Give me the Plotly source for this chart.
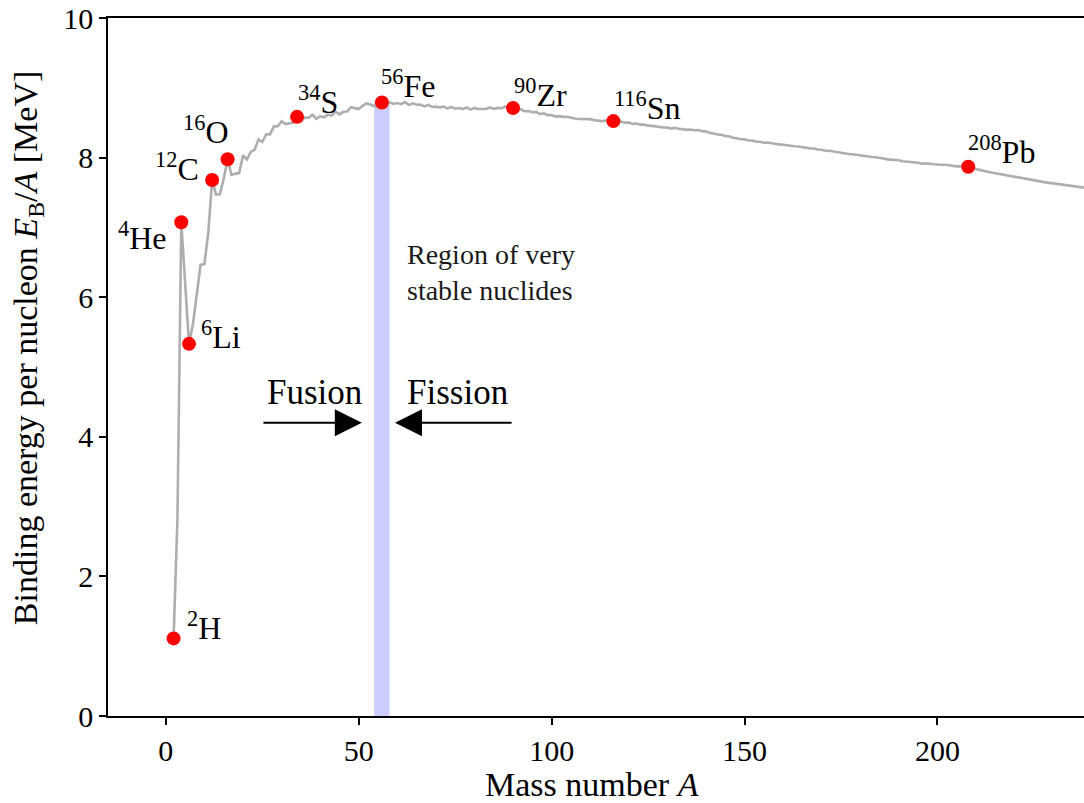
import plotly.graph_objects as go

# Binding energy per nucleon of the most stable nuclide for each mass number
mass_A = list(range(2, 5)) + [6, 7] + list(range(9, 211)) + [212, 214, 216, 218, 220, 222, 224, 226, 228, 230, 232, 234, 236, 238]
be_per_A = [
    1.112, 2.827, 7.074,                    # 2-4
    5.332, 5.606,                           # 6,7
    6.463, 6.475, 6.928, 7.680, 7.470, 7.476, 7.699, 7.976, 7.751, 7.767,   # 9-18
    7.779, 8.032, 7.972, 8.081, 8.112, 8.261, 8.224, 8.334, 8.332, 8.448,   # 19-28
    8.449, 8.521, 8.481, 8.493, 8.498, 8.584, 8.520, 8.575, 8.570, 8.614,   # 29-38
    8.557, 8.595, 8.576, 8.616, 8.601, 8.658, 8.619, 8.656, 8.661, 8.723,   # 39-48
    8.711, 8.696, 8.742, 8.776, 8.760, 8.736, 8.765, 8.790, 8.770, 8.792,   # 49-58
    8.768, 8.781, 8.765, 8.795, 8.752, 8.777, 8.757, 8.760, 8.734, 8.756,   # 59-68
    8.725, 8.730, 8.718, 8.732, 8.705, 8.725, 8.701, 8.711, 8.695, 8.718,   # 69-78
    8.688, 8.711, 8.696, 8.693, 8.696, 8.718, 8.697, 8.712, 8.705, 8.733,   # 79-88
    8.714, 8.710, 8.693, 8.693, 8.664, 8.667, 8.649, 8.654, 8.624, 8.635,   # 89-98
    8.608, 8.609, 8.588, 8.594, 8.584, 8.585, 8.570, 8.560, 8.554, 8.551,   # 99-108
    8.548, 8.551, 8.537, 8.531, 8.522, 8.532, 8.516, 8.523, 8.510, 8.517,   # 109-118
    8.500, 8.505, 8.482, 8.488, 8.472, 8.474, 8.458, 8.454, 8.445, 8.443,   # 119-128
    8.431, 8.430, 8.416, 8.428, 8.410, 8.408, 8.398, 8.402, 8.392, 8.394,   # 129-138
    8.378, 8.376, 8.354, 8.346, 8.330, 8.327, 8.309, 8.304, 8.284, 8.277,   # 139-148
    8.263, 8.262, 8.244, 8.244, 8.229, 8.227, 8.213, 8.215, 8.204, 8.202,   # 149-158
    8.189, 8.184, 8.173, 8.173, 8.162, 8.159, 8.147, 8.142, 8.132, 8.130,   # 159-168
    8.115, 8.112, 8.098, 8.097, 8.087, 8.084, 8.069, 8.064, 8.052, 8.049,   # 169-178
    8.039, 8.035, 8.023, 8.018, 8.008, 8.006, 7.991, 7.987, 7.975, 7.974,   # 179-188
    7.963, 7.963, 7.948, 7.943, 7.938, 7.936, 7.927, 7.914, 7.916, 7.914,   # 189-198
    7.905, 7.906, 7.897, 7.897, 7.887, 7.880, 7.875, 7.875, 7.870, 7.868,   # 199-208
    7.850, 7.834,                                                           # 209-210
    7.810, 7.788, 7.766, 7.745, 7.722, 7.700, 7.682, 7.662, 7.645, 7.631,   # 212-230
    7.615, 7.600, 7.586, 7.570,                                             # 232-238
]

# Highlighted nuclides
label_A = [2, 4, 6, 12, 16, 34, 56, 90, 116, 208]
label_E = [1.112, 7.074, 5.332, 7.680, 7.976, 8.584, 8.790, 8.710, 8.523, 7.868]
label_text = ["<sup>2</sup>H", "<sup>4</sup>He", "<sup>6</sup>Li", "<sup>12</sup>C", "<sup>16</sup>O",
              "<sup>34</sup>S", "<sup>56</sup>Fe", "<sup>90</sup>Zr", "<sup>116</sup>Sn", "<sup>208</sup>Pb"]

# Region of very stable nuclides
stable_A_min, stable_A_max = 54, 58
stable_E_top = 8.79

x_ticks = [0, 50, 100, 150, 200]
y_ticks = [0, 2, 4, 6, 8, 10]

FONT = "Liberation Serif"
LBL = 32
AX = 34
TICK = 30

fig = go.Figure()
fig.add_shape(type="rect", x0=stable_A_min, x1=stable_A_max, y0=0, y1=stable_E_top, xref="x", yref="y",
              fillcolor="#ccccff", line_width=0, layer="below")
fig.add_trace(go.Scatter(x=mass_A, y=be_per_A, mode="lines",
                         line=dict(color="#aeaeae", width=2.6), hoverinfo="skip", showlegend=False))
fig.add_trace(go.Scatter(x=label_A, y=label_E, mode="markers",
                         marker=dict(color="#ff0000", size=14, line_width=0), showlegend=False))

# label placements (anchor, xshift, yshift) in pixels
label_pos = [
    ("left", 11, 12), ("right", -12, -14), ("left", 10, 9), ("right", -11, 13), ("right", 3, 29),
    ("left", -1, 17), ("left", -3, 18), ("left", -1, 15), ("left", -1, 15), ("left", -2, 17),
]
for a, e, t, (anc, dx, dy) in zip(label_A, label_E, label_text, label_pos):
    fig.add_annotation(x=a, y=e, text=t, showarrow=False, xanchor=anc, yanchor="middle",
                       xshift=dx, yshift=dy, font=dict(family=FONT, size=LBL, color="black"))

# Fusion / Fission arrows
fig.add_annotation(x=50.8, y=4.2, ax=24.9, ay=4.2, xref="x", yref="y", axref="x", ayref="y",
                   text="", showarrow=True, arrowhead=2, arrowsize=2.7, arrowwidth=2, arrowcolor="black")
fig.add_annotation(x=59.4, y=4.2, ax=90, ay=4.2, xref="x", yref="y", axref="x", ayref="y",
                   text="", showarrow=True, arrowhead=2, arrowsize=2.7, arrowwidth=2, arrowcolor="black")
fig.add_annotation(x=38.6, y=4.64, text="Fusion", showarrow=False, xanchor="center", yanchor="middle",
                   font=dict(family=FONT, size=35, color="black"))
fig.add_annotation(x=75.7, y=4.64, text="Fission", showarrow=False, xanchor="center", yanchor="middle",
                   font=dict(family=FONT, size=35, color="black"))
fig.add_annotation(x=62.0, y=6.35, text="Region of very<br>stable nuclides", showarrow=False,
                   xanchor="left", yanchor="middle", align="left",
                   font=dict(family=FONT, size=28, color="#1a1a1a"))

# Axis titles
fig.add_annotation(xref="paper", yref="paper", x=0, y=0.527, xshift=-80, textangle=-90,
                   xanchor="center", yanchor="middle", showarrow=False,
                   text="Binding energy per nucleon <i>E</i><sub>B</sub>/<i>A</i> [MeV]",
                   font=dict(family=FONT, size=AX, color="black"))
fig.add_annotation(xref="paper", yref="paper", x=0.496, y=0, yshift=-68,
                   xanchor="center", yanchor="middle", showarrow=False,
                   text="Mass number <i>A</i>", font=dict(family=FONT, size=AX, color="black"))

axis_common = dict(showgrid=False, zeroline=False, showline=True, linecolor="black", linewidth=1.5,
                   ticks="outside", ticklen=7, tickwidth=1.5, tickcolor="black", ticklabeloverflow="allow",
                   tickfont=dict(family=FONT, size=TICK, color="black"))
fig.update_xaxes(range=[-15, 238], tickvals=x_ticks, mirror=True, **axis_common)
fig.update_yaxes(range=[0, 10], tickvals=y_ticks, **axis_common)
fig.update_layout(width=1084, height=803, margin=dict(l=108, r=0, t=18, b=87, autoexpand=False),
                  paper_bgcolor="white", plot_bgcolor="white", showlegend=False)
fig.write_html("out.html")
